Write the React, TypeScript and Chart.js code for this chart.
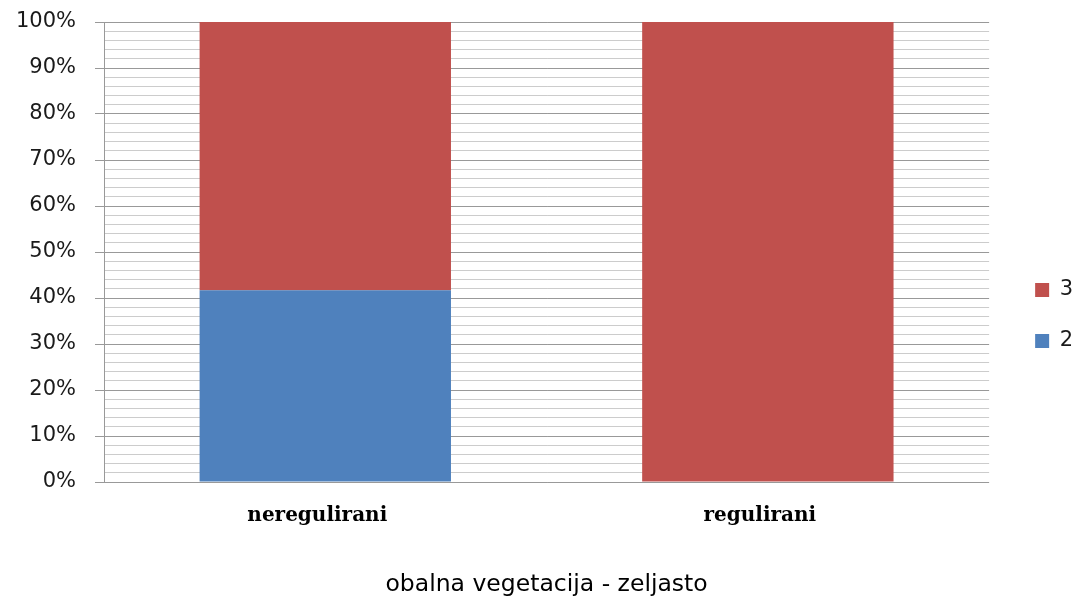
import React, { useEffect, useRef } from "react";
import { Chart, registerables } from "chart.js";

Chart.register(...registerables);

const categories = ["neregulirani", "regulirani"];
const series2 = [41.7, 0];
const series3 = [58.3, 100];
const seriesNames = ["2", "3"];
const axisTitle = "obalna vegetacija - zeljasto";

const legendShift = {
  id: "legendShift",
  afterLayout(chart: any) {
    const l = chart.legend;
    if (!l) return;
    const dx = 16;
    const dy = 3.5;
    l.left += dx;
    l.right += dx;
    l.top += dy;
    l.bottom += dy;
  },
};

export default function App() {
  const ref = useRef<HTMLCanvasElement | null>(null);
  useEffect(() => {
    if (!ref.current) return;
    const chart = new Chart(ref.current, {
      type: "bar",
      data: {
        labels: categories,
        datasets: [
          {
            label: seriesNames[0],
            data: series2,
            backgroundColor: "#4F81BD",
            borderWidth: 0,
          },
          {
            label: seriesNames[1],
            data: series3,
            backgroundColor: "#C0504D",
            borderWidth: 0,
          },
        ],
      },
      options: {
        animation: false,
        responsive: true,
        maintainAspectRatio: false,
        layout: { padding: { top: 22, right: 7, bottom: 0, left: 0 } },
        datasets: {
          bar: { barPercentage: 0.568, categoryPercentage: 1 },
        } as any,
        plugins: {
          legend: {
            display: true,
            position: "right",
            reverse: true,
            labels: {
              boxWidth: 14,
              boxHeight: 14,
              padding: 30,
              color: "#1a1a1a",
              font: { family: "DejaVu Sans", size: 21 },
            },
          },
          tooltip: { enabled: false },
        },
        scales: {
          x: {
            stacked: true,
            grid: { display: false },
            border: { display: false },
            ticks: {
              color: "#000",
              padding: 14,
              labelOffset: -8,
              font: { family: "DejaVu Serif", size: 20, weight: "bold" },
            },
            title: {
              display: true,
              text: axisTitle,
              color: "#000",
              padding: { top: 0, bottom: 3 },
              font: { family: "DejaVu Sans", size: 23.5 },
            },
            afterFit(scale: any) {
              scale.height = 120;
            },
          },
          y: {
            stacked: true,
            min: 0,
            max: 100,
            grid: {
              color: (ctx: any) => (ctx.tick && ctx.tick.value % 10 === 0 ? "#999999" : "#cccccc"),
              tickColor: (ctx: any) => (ctx.tick && ctx.tick.value % 10 === 0 ? "#999999" : "rgba(0,0,0,0)"),
              tickLength: 9,
              lineWidth: 1,
            },
            border: { display: true, color: "#999999" },
            ticks: {
              stepSize: 2,
              autoSkip: false,
              padding: 19,
              color: "#1a1a1a",
              font: { family: "DejaVu Sans", size: 21 },
              callback: (v: any) => (Number(v) % 10 === 0 ? v + "%" : ""),
            },
            afterFit(scale: any) {
              scale.width = 104;
              scale.paddingTop = 12;
              scale.paddingBottom = 12;
            },
          },
        },
      },
      plugins: [legendShift],
    });
    return () => chart.destroy();
  }, []);
  return (
    <div style={{ position: "absolute", left: 0, top: 0, width: 1074, height: 602 }}>
      <canvas ref={ref} />
    </div>
  );
}
